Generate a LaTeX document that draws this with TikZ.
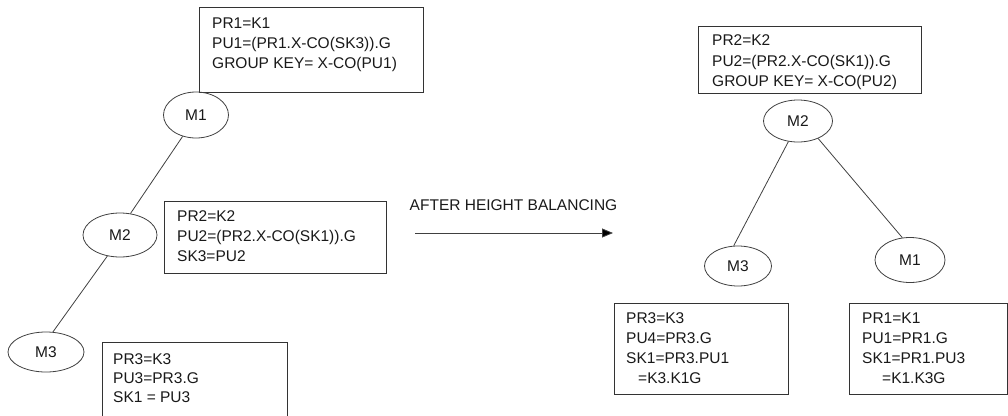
\documentclass[tikz,border=0pt]{standalone}
\usepackage{fontspec}
\setmainfont{Liberation Sans}
\usetikzlibrary{arrows.meta,shapes.geometric}
\begin{document}
\begin{tikzpicture}[x=1pt,y=-1pt,
  every node/.style={font=\fontsize{15.5}{20}\selectfont, text=black!90},
  infobox/.style={draw=black!80, line width=0.9pt, anchor=north west, inner sep=0pt},
  infotext/.style={anchor=north west, inner sep=0pt, align=left},
  mnode/.style={draw=black!75, line width=0.8pt, ellipse, inner sep=0pt},
  edge/.style={draw=black!75, line width=0.8pt},
  headtip/.style={-{Triangle[length=11pt,width=9pt,fill=black]}}
]
\useasboundingbox (0,0) rectangle (1008,415);
\clip (0,0) rectangle (1008,415);

% ---- tree before balancing ----
\node[infobox, minimum width=224pt, minimum height=85pt] (b1) at (199,7) {};
\node[infotext] (t1) at (212,17.4) {PR1=K1\\PU1=(PR1.X-CO(SK3)).G\\GROUP KEY= X-CO(PU1)};

\node[mnode, minimum width=65pt, minimum height=46pt] (lm1) at (196,115) {M1};
\node[mnode, minimum width=74pt, minimum height=44pt] (lm2) at (120,235) {M2};
\node[mnode, minimum width=76pt, minimum height=40pt] (lm3) at (46,352) {M3};

\node[infobox, minimum width=222pt, minimum height=72pt] (b2) at (164,201) {};
\node[infotext] (t2) at (177,210.4) {PR2=K2\\[0.5pt]PU2=(PR2.X-CO(SK1)).G\\SK3=PU2};

\node[infobox, minimum width=185pt, minimum height=90pt] (b3) at (102,342) {};
\node[infotext, font=\fontsize{15.5}{19}\selectfont] (t3) at (113,353.4) {PR3=K3\\PU3=PR3.G\\SK1 = PU3};

\draw[edge] (lm1.238.6) -- (lm2.64.4);
\draw[edge] (lm2.-121.4) -- (lm3.71.6);

% ---- transition arrow ----
\coordinate (arrS) at (415,233);
\coordinate (arrE) at (613,233);
\draw[edge, headtip] (arrS) -- (arrE);
\node (alabel) at (513.5,205) {AFTER HEIGHT BALANCING};

% ---- tree after balancing ----
\node[infobox, minimum width=223pt, minimum height=67pt] (rb1) at (698,26) {};
\node[infotext] (rt1) at (712,34.4) {PR2=K2\\[1pt]PU2=(PR2.X-CO(SK1)).G\\GROUP KEY= X-CO(PU2)};

\node[mnode, minimum width=69pt, minimum height=42pt] (rm2) at (798,121) {M2};
\node[mnode, minimum width=67pt, minimum height=40pt] (rm3) at (738,266) {M3};
\node[mnode, minimum width=70pt, minimum height=45pt] (rm1) at (910,260) {M1};

\draw[edge] (rm2.-115.6) -- (rm3.102.8);
\draw[edge] (rm2.-41.2) -- (rm1.109);

\node[infobox, minimum width=174pt, minimum height=91pt] (rb2) at (614,303) {};
\node[infotext] (rt2) at (626,312.4) {PR3=K3\\PU4=PR3.G\\SK1=PR3.PU1\\\hspace*{12pt}=K3.K1G};

\node[infobox, minimum width=158pt, minimum height=91pt] (rb3) at (849,303) {};
\node[infotext] (rt3) at (862,312.4) {PR1=K1\\PU1=PR1.G\\SK1=PR1.PU3\\\hspace*{20pt}=K1.K3G};
\end{tikzpicture}
\end{document}
